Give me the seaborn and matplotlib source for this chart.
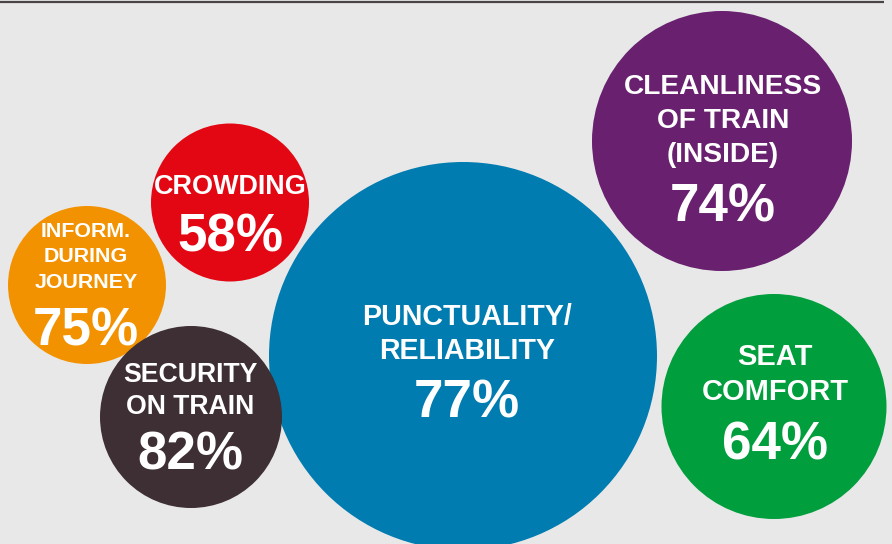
import matplotlib
matplotlib.use("Agg")
import matplotlib.pyplot as plt
import seaborn as sns
import pandas as pd

# ---- data ----
categories = ["PUNCTUALITY/\nRELIABILITY", "CLEANLINESS\nOF TRAIN\n(INSIDE)", "SEAT\nCOMFORT",
              "CROWDING", "INFORM.\nDURING\nJOURNEY", "SECURITY\nON TRAIN"]
satisfaction = [77, 74, 64, 58, 75, 82]
importance_radius = [194, 130, 112.5, 79, 79, 91]   # bubble radius (px)

# ---- layout / style ----
centers = [(463, 356), (722, 141), (774, 406.5), (230, 202.5), (87, 285), (191, 417)]
colors = ["#007cb1", "#68206f", "#009e3d", "#e30613", "#f39200", "#3d2f33"]
label_baselines = [325, 94, 365, 194, 237, 382]
label_pitch = [34.3, 34.2, 35, 0, 25.5, 31.5]
label_px = [28.6, 28.1, 29, 27, 21.4, 26.6]
pct_baselines = [418, 221.5, 460, 251.5, 345, 470]
text_x = [467, 723, 775, 230, 86, 190]

W, H, DPI = 892, 544, 100
df = pd.DataFrame({
    "cat": categories,
    "x": [c[0] for c in centers],
    "y": [c[1] for c in centers],
})
size_map = {c: (2 * r * 72 / DPI) ** 2 for c, r in zip(categories, importance_radius)}
pal = dict(zip(categories, colors))

sns.set_theme(style="white")
plt.rcParams["font.family"] = ["Liberation Sans", "DejaVu Sans"]

fig = plt.figure(figsize=(W / DPI, H / DPI), dpi=DPI, facecolor="#e8e8e8")
ax = fig.add_axes([0, 0, 1, 1])
ax.set_facecolor("#e8e8e8")

sns.scatterplot(data=df, x="x", y="y", hue="cat", size="cat", palette=pal, sizes=size_map,
                linewidth=0, legend=False, ax=ax, alpha=1, zorder=2)

ax.set_xlim(0, W)
ax.set_ylim(H, 0)
ax.set_axis_off()

# top rule
ax.plot([0, 884], [2, 2], color="#4a4446", lw=2.2 * 72 / DPI, solid_capstyle="butt", zorder=3)

for i, cat in enumerate(categories):
    lines = cat.split("\n")
    for j, line in enumerate(lines):
        ax.text(text_x[i], label_baselines[i] + j * label_pitch[i], line,
                ha="center", va="baseline", color="white", fontweight="bold",
                fontsize=label_px[i] * 72 / DPI, zorder=4)
    ax.text(text_x[i], pct_baselines[i], f"{satisfaction[i]}%",
            ha="center", va="baseline", color="white", fontweight="bold",
            fontsize=53 * 72 / DPI, zorder=4)

fig.savefig("out.png", dpi=DPI, facecolor=fig.get_facecolor())
